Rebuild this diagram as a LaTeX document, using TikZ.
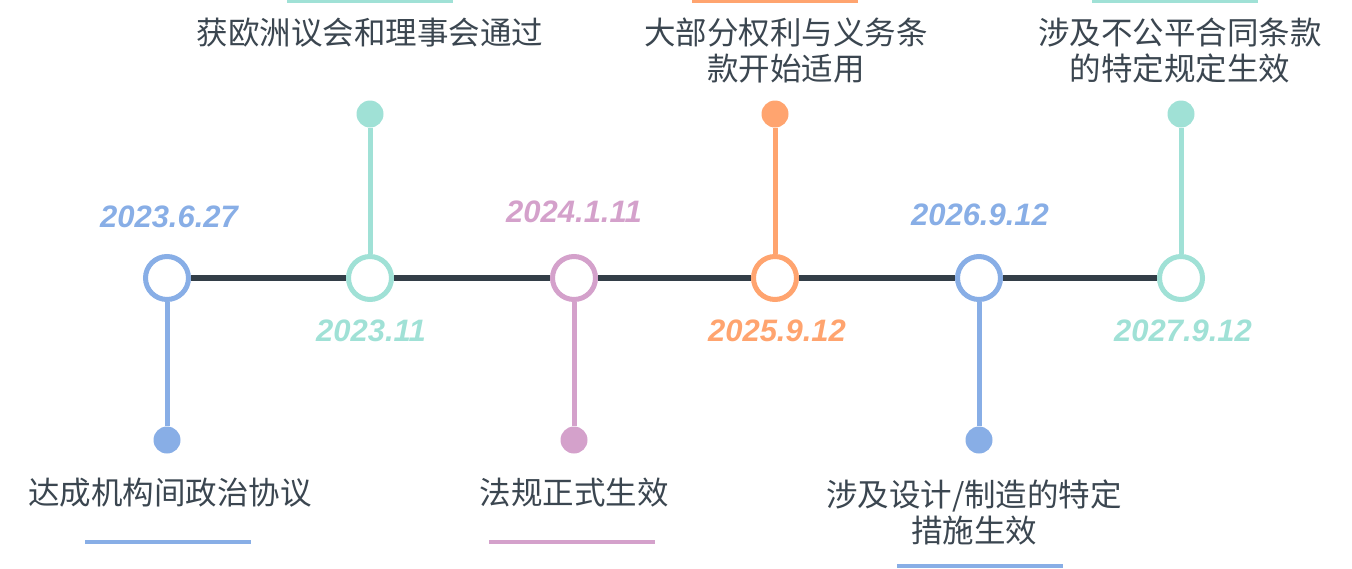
\documentclass[tikz,border=0pt]{standalone}
\usepackage{fontspec}
\setmainfont{Liberation Sans}
\newfontfamily\cjk{Noto Sans CJK SC}
\usetikzlibrary{positioning}
\definecolor{tlblue}{HTML}{88AEE6}
\definecolor{tlteal}{HTML}{A0E1D6}
\definecolor{tlpink}{HTML}{D4A1CB}
\definecolor{tlorange}{HTML}{FFA46F}
\definecolor{tlaxis}{HTML}{333E48}
\definecolor{tltext}{HTML}{3B4650}
\tikzset{
  ring/.style={circle,line width=5pt,draw=#1,fill=white,minimum size=43pt,inner sep=0pt},
  dot/.style={circle,fill=#1,minimum size=27pt,inner sep=0pt},
  date/.style={text=#1,inner sep=0pt,font=\fontsize{31}{31}\selectfont\bfseries\itshape},
  event/.style={text=tltext,inner sep=0pt,align=center,font=\cjk\fontsize{31.5}{36}\selectfont},
  bar/.style={rectangle,fill=#1,minimum width=166pt,minimum height=4pt,inner sep=0pt},
  stem/.style={line width=5pt,draw=#1},
  axis/.style={line width=6pt,draw=tlaxis}
}
\begin{document}
\begin{tikzpicture}[x=1pt,y=-1pt]
  \useasboundingbox (0,0) rectangle (1352,568);

  % rings on the axis
  \node [ring=tlblue]   (c1) at (167,278) {};
  \node [ring=tlteal]   (c2) at (370,278) {};
  \node [ring=tlpink]   (c3) at (574,278) {};
  \node [ring=tlorange] (c4) at (775,278) {};
  \node [ring=tlblue]   (c5) at (979,278) {};
  \node [ring=tlteal]   (c6) at (1181,278) {};

  % end dots
  \node [dot=tlblue]   (d1) at (167,440) {};
  \node [dot=tlteal]   (d2) at (370,114) {};
  \node [dot=tlpink]   (d3) at (574,440) {};
  \node [dot=tlorange] (d4) at (775,114) {};
  \node [dot=tlblue]   (d5) at (979,440) {};
  \node [dot=tlteal]   (d6) at (1181,114) {};

  % dates
  \node [date=tlblue]   (t1) at (169,217) {2023.6.27};
  \node [date=tlteal]   (t2) at (371,331) {2023.11};
  \node [date=tlpink]   (t3) at (574,212) {2024.1.11};
  \node [date=tlorange] (t4) at (777,331) {2025.9.12};
  \node [date=tlblue]   (t5) at (980,215) {2026.9.12};
  \node [date=tlteal]   (t6) at (1183,331) {2027.9.12};

  % events
  \node [event] (e1) at (170,493) {达成机构间政治协议};
  \node [event] (e2) at (370,33) {获欧洲议会和理事会通过};
  \node [event] (e3) at (574,493) {法规正式生效};
  \node [event] (e4) at (786,51) {大部分权利与义务条\\款开始适用};
  \node [event] (e5) at (974,512) {涉及设计/制造的特定\\措施生效};
  \node [event] (e6) at (1180,51) {涉及不公平合同条款\\的特定规定生效};

  % bars
  \node [bar=tlblue]   (b1) at (168,542) {};
  \node [bar=tlteal]   (b2) at (370,1) {};
  \node [bar=tlpink]   (b3) at (572,542) {};
  \node [bar=tlorange] (b4) at (775,1) {};
  \node [bar=tlblue]   (b5) at (980,566) {};
  \node [bar=tlteal]   (b6) at (1175,1) {};

  \path [axis] (c1) -- (c2) (c2) -- (c3) (c3) -- (c4) (c4) -- (c5) (c5) -- (c6);
  \path (c1) edge [stem=tlblue] (d1)
        (c2) edge [stem=tlteal] (d2)
        (c3) edge [stem=tlpink] (d3)
        (c4) edge [stem=tlorange] (d4)
        (c5) edge [stem=tlblue] (d5)
        (c6) edge [stem=tlteal] (d6);
\end{tikzpicture}
\end{document}
